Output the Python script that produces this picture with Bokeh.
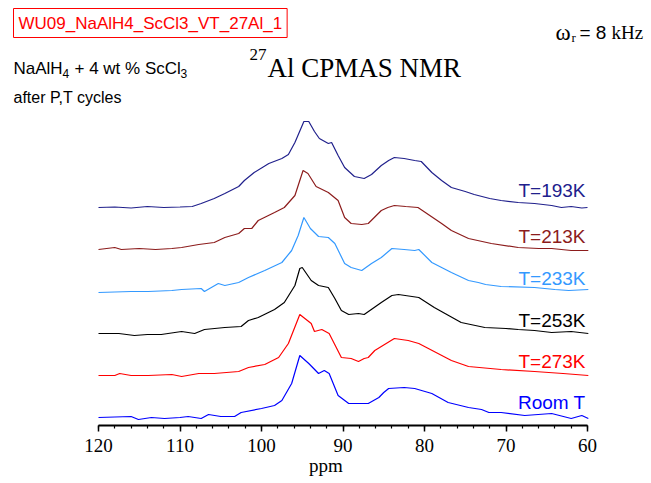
from bokeh.plotting import figure
from bokeh.models import Range1d, FixedTicker, Label
from bokeh.embed import file_html
from bokeh.resources import INLINE

# ---------------- data (chemical shift in ppm, intensity in arbitrary units) ----------------
ppm_193 = [120, 118, 116, 114, 112, 110, 108.5, 107.4, 105.8, 104.5, 102.8, 102.1, 100.9, 99.1, 97.5,
           96.7, 95.9, 94.8, 94.2, 93.5, 92.9, 91.8, 91.4, 90.6, 89.8, 88.6, 87.4, 86.5, 85.3, 84.4,
           83.7, 82.5, 81.2, 80.4, 79.1, 77.9, 76.7, 75.0, 73.9, 72.0, 70.6, 68.5, 66.5, 64.4, 63.2,
           62.0, 60.7, 60]
int_193 = [0, 0.5, -0.5, 1, 0, 0.5, 1, 4, 9, 14, 21, 27, 35, 44, 49,
           53, 65, 86, 86, 76, 69, 64, 65, 52, 40, 31, 29, 33, 42, 47,
           50, 49, 47, 46, 35, 27, 20, 16, 13, 9, 7, 5, 4, 2, 0,
           1, -0.5, 0]

ppm_213 = [120, 118, 117.2, 115, 113, 111, 109.8, 107.7, 105.8, 104.5, 102.8, 102.1, 101.2, 100.4,
           98.4, 97.2, 95.9, 94.9, 94.3, 93.3, 91.8, 90.6, 89.8, 89.0, 87.7, 86.9, 85.3, 84.5, 83.7,
           82.3, 80.8, 77.9, 76.7, 74.6, 71.8, 68.5, 66.0, 64.4, 62, 59.9]
int_213 = [0, 2, 0, 1, 0, 1, 2, 5, 7, 12, 16, 21, 21, 29,
           37, 42, 54, 79, 76, 63, 57, 49, 32, 26, 25, 26, 39, 42, 44,
           43, 42, 26, 19, 11, 6, 2, 1, 1, -1, -1]

ppm_233 = [120, 116, 113.9, 111, 109.8, 107.4, 107.0, 105.3, 104.5, 102.8, 101.6, 99.6, 97.5, 96.3,
           95.5, 94.8, 94.0, 93.0, 91.8, 91.0, 89.8, 89.0, 87.7, 86.5, 85.3, 84.0, 82.5, 81.2, 80.7,
           79.1, 76.7, 74.6, 73.4, 72.5, 70.6, 66.5, 64, 62.3, 59.9]
int_233 = [-2, -1, -1, 0, 1, 2, -1, 7, 5, 8, 13, 20, 28, 40,
           55, 73, 62, 54, 53, 47, 27, 23, 20, 27, 33, 42, 41, 40, 41,
           28, 18, 10, 8, 6, 4, 3, 1, 0, 1]

ppm_253 = [120, 117.5, 115.6, 114, 112.3, 109.8, 108.2, 107.0, 104.5, 102.5, 101.6, 100.4, 98.4, 97.2,
           95.9, 95.3, 95.0, 93.9, 93.0, 91.8, 91.0, 90.2, 89.3, 88.1, 87.4, 85.3, 84.0, 83.2, 80.7,
           78.8, 75.5, 72.6, 70, 68.5, 66.5, 64.4, 62, 59.9]
int_253 = [-1, -1, -3, -2, -2, 1, -1, 3, 5, 6, 12, 15, 23, 30,
           47, 64, 65, 52, 47, 45, 34, 22, 18, 19, 18, 30, 37, 38, 35,
           25, 10, 5, 4, 3, 2, 0, 1, -1]

ppm_273 = [120, 118, 117.4, 116, 113.9, 111, 109.8, 107.7, 105.8, 102.8, 101.6, 99.6, 97.9, 96.7,
           95.3, 93.9, 93.5, 92.6, 91.7, 90.2, 89.0, 88.1, 87.4, 86.9, 86.1, 85.3, 83.7, 82, 80.7,
           76.7, 74.6, 70.6, 66.5, 63, 59.9]
int_273 = [0, 0, 2, 0, 0, 1, -1, 2, 2, 4, 8, 11, 18, 32,
           61, 52, 44, 46, 42, 18, 17, 14, 17, 18, 25, 29, 37, 35, 32,
           15, 9, 6, 4, 2, 0]

ppm_rt = [120, 118, 116, 115.1, 113.5, 111.9, 110, 109, 107.4, 106.5, 105, 103.3, 102.5, 100,
          98.4, 97.5, 96.3, 95.3, 94.2, 93.0, 92.3, 91.7, 90.6, 89.3, 88.1, 86.9, 85.6, 85.0, 84.4,
          82.5, 81.2, 79.1, 77.1, 74.6, 73.0, 72.1, 70.6, 67.7, 64.4, 62.0, 60.7, 59.9]
int_rt = [0, 0.5, 1, -2, 0, -1, 0, 1, -1, 3, 1, 1, 5, 9,
          12, 17, 34, 62, 54, 44, 47, 44, 22, 14, 14, 14, 20, 25, 29,
          30, 29, 24, 15, 10, 8, 5, 5, 2, 4, -1, 2, -1]

series_labels = ["T=193K", "T=213K", "T=233K", "T=253K", "T=273K", "Room T"]
tick_values = [120, 110, 100, 90, 80, 70, 60]

# ---------------- layout / style ----------------
W, H = 651, 483
PX_PER_PPM = 8.15
X120_PX = 98          # pixel column of 120 ppm
FRAME_BOTTOM = 425    # pixel row of x axis
BASE_PX = 417         # pixel row of lowest baseline


def fx(px):
    return 120 - (px - X120_PX) / PX_PER_PPM


def fy(py):
    return BASE_PX - py


p = figure(width=W, height=H, output_backend="svg", toolbar_location=None,
           x_range=Range1d(fx(0), fx(W)), y_range=Range1d(fy(FRAME_BOTTOM), fy(0)),
           y_axis_location=None, min_border_left=0, min_border_right=0,
           min_border_top=0, min_border_bottom=H - FRAME_BOTTOM)
p.outline_line_color = None
p.xgrid.visible = False
p.ygrid.visible = False
p.background_fill_color = "white"
p.border_fill_color = "white"

SERIF = "Liberation Serif"
SANS = "Liberation Sans"

colors = ["#20208c", "#8c1c1c", "#3399ff", "#000000", "#ff0000", "#0000ff"]
offsets = [210, 168, 127, 85, 42, 0]
label_py = [190, 236, 278, 320, 361, 402]
series = [(ppm_193, int_193), (ppm_213, int_213), (ppm_233, int_233),
          (ppm_253, int_253), (ppm_273, int_273), (ppm_rt, int_rt)]

for (xs, ys), off, col, lab, lpy in zip(series, offsets, colors, series_labels, label_py):
    p.line(xs, [v + off for v in ys], line_color=col, line_width=1.2)
    p.add_layout(Label(x=fx(585), y=fy(lpy), text=lab, text_color=col,
                       text_font=SANS, text_font_size="19px",
                       text_align="right", text_baseline="middle"))

ax = p.xaxis[0]
ax.ticker = FixedTicker(ticks=tick_values, minor_ticks=list(range(60, 121, 2)))
ax.bounds = (60, 120)
ax.axis_line_width = 2
ax.axis_line_color = "black"
ax.major_tick_line_width = 1.5
ax.major_tick_in = 0
ax.major_tick_out = 6
ax.minor_tick_line_width = 1.2
ax.minor_tick_in = 0
ax.minor_tick_out = 3
ax.major_label_standoff = 7
ax.major_label_text_font = SERIF
ax.major_label_text_font_size = "19px"
ax.major_label_text_color = "black"
ax.axis_label = "ppm"
ax.axis_label_standoff = 0
ax.axis_label_text_font = SERIF
ax.axis_label_text_font_size = "19px"
ax.axis_label_text_font_style = "normal"
ax.axis_label_text_color = "black"

# title with superscript
p.add_layout(Label(x=fx(249), y=fy(54), text="27", text_font=SERIF,
                   text_font_size="17px", text_baseline="alphabetic", text_color="black"))
p.add_layout(Label(x=fx(267), y=fy(67), text="Al CPMAS NMR", text_font=SERIF,
                   text_font_size="27px", text_baseline="alphabetic", text_color="black"))

# spinning rate
p.add_layout(Label(x=fx(555), y=fy(32), text="ω", text_font=SERIF,
                   text_font_size="23px", text_baseline="alphabetic", text_color="black"))
p.add_layout(Label(x=fx(571), y=fy(37), text="r", text_font=SERIF,
                   text_font_size="13px", text_baseline="alphabetic", text_color="black"))
p.add_layout(Label(x=fx(579), y=fy(32), text="= 8", text_font=SANS,
                   text_font_size="19px", text_baseline="alphabetic", text_color="black"))
p.add_layout(Label(x=fx(611), y=fy(32), text="kHz", text_font=SERIF,
                   text_font_size="19px", text_baseline="alphabetic", text_color="black"))

# sample file name box
p.add_layout(Label(x=fx(13), y=fy(22.5), text="WU09_NaAlH4_ScCl3_VT_27Al_1",
                   text_font=SANS, text_font_size="17px", text_color="#ff0000",
                   text_align="left", text_baseline="middle",
                   border_line_color="#ff0000", border_line_width=1,
                   background_fill_color="white", padding=5))

# sample description
p.add_layout(Label(x=fx(13), y=fy(68), text="NaAlH", text_font=SANS,
                   text_font_size="17px", text_baseline="alphabetic", text_color="black"))
p.add_layout(Label(x=fx(62), y=fy(73), text="4", text_font=SANS,
                   text_font_size="12px", text_baseline="alphabetic", text_color="black"))
p.add_layout(Label(x=fx(74), y=fy(68), text="+ 4 wt % ScCl", text_font=SANS,
                   text_font_size="17px", text_baseline="alphabetic", text_color="black"))
p.add_layout(Label(x=fx(180), y=fy(73), text="3", text_font=SANS,
                   text_font_size="12px", text_baseline="alphabetic", text_color="black"))
p.add_layout(Label(x=fx(13), y=fy(97), text="after P,T cycles", text_font=SANS,
                   text_font_size="16px", text_baseline="alphabetic", text_color="black"))

open("out.html", "w").write(file_html(p, INLINE))
